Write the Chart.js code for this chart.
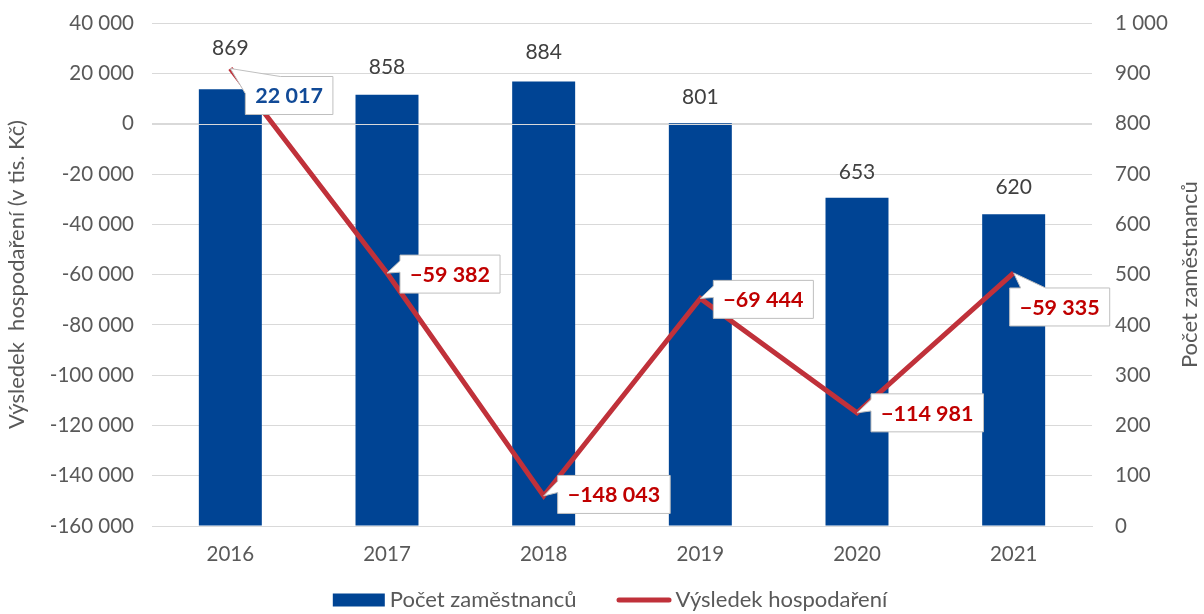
<!DOCTYPE html>
<html>
<head>
<meta charset="utf-8">
<script src="https://cdn.jsdelivr.net/npm/chart.js@4.4.1/dist/chart.umd.min.js"></script>
<style>
html,body{margin:0;padding:0;background:#ffffff;}
#wrap{width:1204px;height:614px;}
</style>
</head>
<body>
<div id="wrap"><canvas id="c" width="1204" height="614"></canvas></div>
<script>
// ---- data ----
const years = ['2016', '2017', '2018', '2019', '2020', '2021'];
const employees = [869, 858, 884, 801, 653, 620];
const results = [22017, -59382, -148043, -69444, -114981, -59335];
const seriesNames = ['Počet zaměstnanců', 'Výsledek hospodaření'];
const leftTitle = 'Výsledek  hospodaření (v tis. Kč)';
const rightTitle = 'Počet zaměstnanců';
const leftRange = [-160000, 40000, 20000];
const rightRange = [0, 1000, 100];

// ---- styling ----
const FONT = 'Lato';
const TXT = '#595959';
const BAR_COLOR = '#004494';
const LINE_COLOR = '#C0313A';
const GRID = '#D9D9D9';
// label placement (pixels relative to the mark)
const barLabelLift = [41, 27, 29, 26, 26, 27];
const calloutPlace = [[15, 27], [13, 1], [14, -1.5], [13, 1], [14, 0], [-4, 34]];

function groupThousands(n) {
  return String(Math.abs(Math.round(n))).replace(/\B(?=(\d{3})+(?!\d))/g, ' ');
}
function tickFmt(v) { return (v < 0 ? '-' : '') + groupThousands(v); }
function labelFmt(v) { return (v < 0 ? '\u2212' : '') + groupThousands(v); }

function drawCallout(ctx, tip, left, cy, text, color) {
  ctx.save();
  ctx.font = 'bold 21.5px ' + FONT;
  const tw = ctx.measureText(text).width;
  const w = tw + 20, h = 38;
  const top = cy - h / 2, right = left + w, bottom = top + h;
  ctx.beginPath();
  if (tip.y < top && tip.x < left) {
    const y1 = top + 0.45 * h, x1 = left + 0.4 * w;
    ctx.moveTo(left, y1); ctx.lineTo(tip.x, tip.y); ctx.lineTo(x1, top);
    ctx.lineTo(right, top); ctx.lineTo(right, bottom); ctx.lineTo(left, bottom);
    ctx.closePath();
  } else if (tip.y < top) {
    const x1 = left + 11, x2 = left + 36;
    ctx.moveTo(left, top); ctx.lineTo(x1, top); ctx.lineTo(tip.x, tip.y); ctx.lineTo(x2, top);
    ctx.lineTo(right, top); ctx.lineTo(right, bottom); ctx.lineTo(left, bottom);
    ctx.closePath();
  } else {
    const y1 = top + 0.15 * h, y2 = top + 0.45 * h;
    ctx.moveTo(left, top); ctx.lineTo(right, top); ctx.lineTo(right, bottom); ctx.lineTo(left, bottom);
    ctx.lineTo(left, y2); ctx.lineTo(tip.x, tip.y); ctx.lineTo(left, y1);
    ctx.closePath();
  }
  ctx.fillStyle = '#ffffff';
  ctx.fill();
  ctx.strokeStyle = '#BFBFBF';
  ctx.lineWidth = 1;
  ctx.lineJoin = 'miter';
  ctx.stroke();
  ctx.fillStyle = color;
  ctx.textAlign = 'center';
  ctx.textBaseline = 'middle';
  ctx.fillText(text, left + w / 2, cy + 1);
  ctx.restore();
}

const overlay = {
  id: 'overlay',
  afterDatasetDraw(chart, args) {
    if (args.index !== 0) return;
    const ctx = chart.ctx, a = chart.chartArea;
    const y0 = Math.round(chart.scales.y.getPixelForValue(0)) + 0.5;
    ctx.save();
    ctx.strokeStyle = GRID;
    ctx.lineWidth = 1;
    ctx.beginPath();
    ctx.moveTo(a.left, y0); ctx.lineTo(a.right, y0);
    ctx.stroke();
    ctx.restore();
  },
  afterDatasetsDraw(chart) {
    const ctx = chart.ctx;
    // bar value labels
    const bm = chart.getDatasetMeta(0);
    ctx.save();
    ctx.font = '21px ' + FONT;
    ctx.fillStyle = '#404040';
    ctx.textAlign = 'center';
    ctx.textBaseline = 'middle';
    bm.data.forEach((el, i) => {
      ctx.fillText(groupThousands(employees[i]), el.x, el.y - barLabelLift[i]);
    });
    ctx.restore();
    // line value callouts
    const lm = chart.getDatasetMeta(1);
    lm.data.forEach((el, i) => {
      const v = results[i];
      const p = calloutPlace[i];
      drawCallout(ctx, {x: el.x, y: el.y}, el.x + p[0], el.y + p[1], labelFmt(v), v < 0 ? '#C00000' : '#114A97');
    });
  },
  afterDraw(chart) {
    const ctx = chart.ctx, a = chart.chartArea;
    // right axis title (reads bottom-to-top)
    ctx.save();
    ctx.font = '22px ' + FONT;
    ctx.fillStyle = TXT;
    ctx.translate(1190, (a.top + a.bottom) / 2);
    ctx.rotate(-Math.PI / 2);
    ctx.textAlign = 'center';
    ctx.textBaseline = 'middle';
    ctx.fillText(rightTitle, 0, 0);
    ctx.restore();
    // legend
    ctx.save();
    ctx.font = '22px ' + FONT;
    const t1 = ctx.measureText(seriesNames[0]).width;
    const t2 = ctx.measureText(seriesNames[1]).width;
    const boxW = 52, gapA = 5, gapB = 40, lineW = 55, gapC = 4;
    const total = boxW + gapA + t1 + gapB + lineW + gapC + t2;
    let x = 610 - total / 2;
    const cy = 600;
    ctx.fillStyle = BAR_COLOR;
    ctx.fillRect(x, cy - 6.5, boxW, 13);
    x += boxW + gapA;
    ctx.fillStyle = TXT;
    ctx.textAlign = 'left';
    ctx.textBaseline = 'middle';
    ctx.fillText(seriesNames[0], x, cy);
    x += t1 + gapB;
    ctx.strokeStyle = LINE_COLOR;
    ctx.lineWidth = 5;
    ctx.lineCap = 'round';
    ctx.beginPath();
    ctx.moveTo(x + 2.5, cy); ctx.lineTo(x + lineW - 2.5, cy);
    ctx.stroke();
    x += lineW + gapC;
    ctx.fillText(seriesNames[1], x, cy);
    ctx.restore();
  }
};

const tickFont = {family: FONT, size: 20.5};

new Chart(document.getElementById('c').getContext('2d'), {
  type: 'bar',
  data: {
    labels: years,
    datasets: [
      {
        type: 'bar', label: seriesNames[0], data: employees, yAxisID: 'y1',
        backgroundColor: BAR_COLOR, borderWidth: 0,
        categoryPercentage: 1.0, barPercentage: 0.402, order: 2
      },
      {
        type: 'line', label: seriesNames[1], data: results, yAxisID: 'y',
        borderColor: LINE_COLOR, backgroundColor: LINE_COLOR, borderWidth: 5,
        pointRadius: 0, pointHoverRadius: 0, tension: 0, fill: false,
        borderJoinStyle: 'miter', borderCapStyle: 'butt', order: 1
      }
    ]
  },
  options: {
    responsive: false,
    animation: false,
    devicePixelRatio: 1,
    layout: {padding: {top: 23.3, bottom: 38, left: 0, right: 0}},
    plugins: {legend: {display: false}, tooltip: {enabled: false}},
    scales: {
      x: {
        grid: {display: false, drawTicks: false},
        border: {display: true, color: GRID},
        ticks: {font: tickFont, color: TXT, padding: 16},
        afterFit(s) { s.height = 50; }
      },
      y: {
        position: 'left',
        min: leftRange[0], max: leftRange[1],
        ticks: {stepSize: leftRange[2], callback: tickFmt, font: tickFont, color: TXT, padding: 3},
        grid: {color: GRID, drawTicks: true, tickLength: 15, tickColor: 'rgba(0,0,0,0)', lineWidth: 1},
        border: {display: false},
        title: {display: true, text: leftTitle, font: {family: FONT, size: 22}, color: TXT, padding: {top: 4, bottom: 0}},
        afterFit(s) { s.width = 152; }
      },
      y1: {
        position: 'right',
        min: rightRange[0], max: rightRange[1],
        ticks: {stepSize: rightRange[2], callback: tickFmt, font: tickFont, color: TXT, padding: 3},
        grid: {display: true, drawOnChartArea: false, drawTicks: true, tickLength: 20, tickColor: 'rgba(0,0,0,0)', color: 'rgba(0,0,0,0)'},
        border: {display: false},
        afterFit(s) { s.width = 112; }
      }
    }
  },
  plugins: [overlay]
});
</script>
</body>
</html>
